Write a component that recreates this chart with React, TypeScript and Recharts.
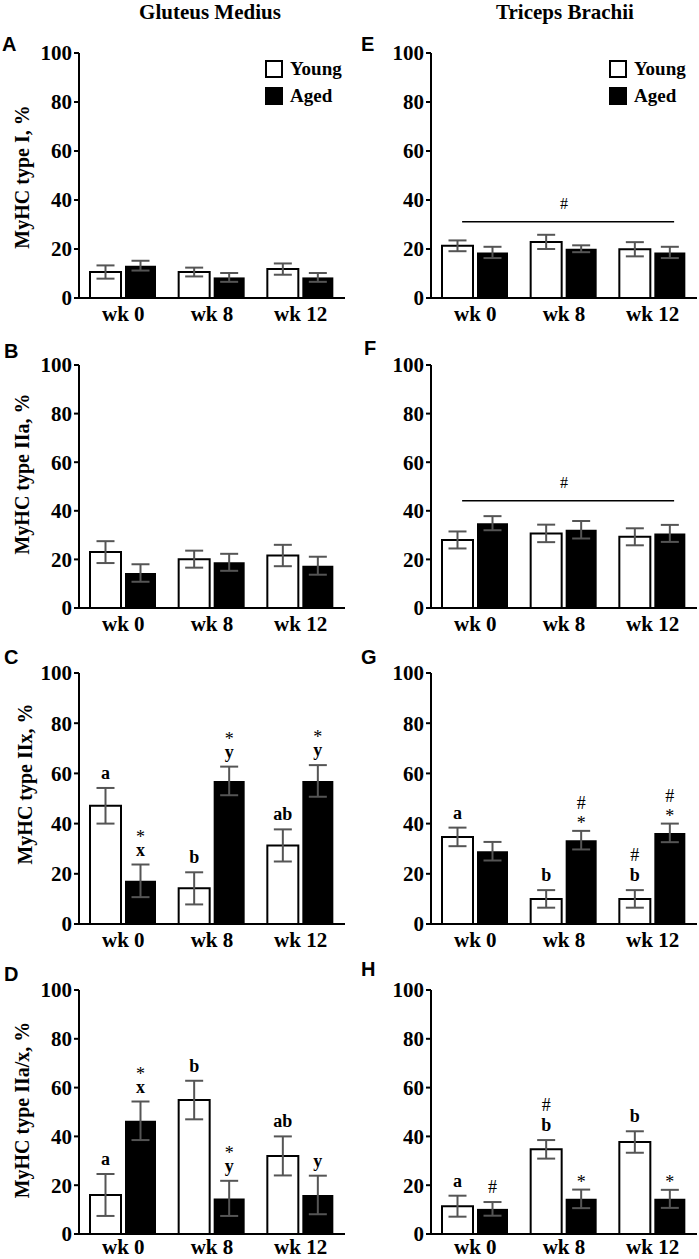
import React from 'react';
import
	{
		BarChart,
		Bar,
		XAxis,
		YAxis,
		ErrorBar,
		LabelList,
		ReferenceLine,
		Legend,
	} from "recharts";

const weeks = ['wk 0', 'wk 8', 'wk 12'];
const yTicks = [0, 20, 40, 60, 80, 100];
const groupNames = ['Young', 'Aged'];
const muscles = ['Gluteus Medius', 'Triceps Brachii'];

// Gluteus medius
const gmTypeIYoung = [10.6, 10.6, 11.8];
const gmTypeIYoungErr = [2.7, 1.8, 2.3];
const gmTypeIAged = [13.2, 8.4, 8.4];
const gmTypeIAgedErr = [2.0, 1.8, 1.8];

const gmTypeIIaYoung = [23.0, 20.1, 21.6];
const gmTypeIIaYoungErr = [4.5, 3.5, 4.4];
const gmTypeIIaAged = [14.4, 18.8, 17.4];
const gmTypeIIaAgedErr = [3.6, 3.5, 3.7];

const gmTypeIIxYoung = [47.1, 14.2, 31.3];
const gmTypeIIxYoungErr = [7.1, 6.4, 6.4];
const gmTypeIIxAged = [17.2, 57.0, 57.0];
const gmTypeIIxAgedErr = [6.5, 5.7, 6.3];
const gmTypeIIxYoungNotes = [['a'], ['b'], ['ab']];
const gmTypeIIxAgedNotes = [['*', 'x'], ['*', 'y'], ['*', 'y']];

const gmTypeIIaxYoung = [16.0, 54.9, 32.0];
const gmTypeIIaxYoungErr = [8.6, 7.9, 8.0];
const gmTypeIIaxAged = [46.4, 14.6, 16.0];
const gmTypeIIaxAgedErr = [7.9, 7.2, 7.9];
const gmTypeIIaxYoungNotes = [['a'], ['b'], ['ab']];
const gmTypeIIaxAgedNotes = [['*', 'x'], ['*', 'y'], ['y']];

// Triceps brachii
const tbTypeIYoung = [21.3, 22.9, 19.9];
const tbTypeIYoungErr = [2.2, 2.9, 2.9];
const tbTypeIAged = [18.6, 20.1, 18.6];
const tbTypeIAgedErr = [2.3, 1.4, 2.3];
const tbTypeIBracket = 31.1;

const tbTypeIIaYoung = [28.0, 30.7, 29.3];
const tbTypeIIaYoungErr = [3.5, 3.6, 3.5];
const tbTypeIIaAged = [34.9, 32.2, 30.7];
const tbTypeIIaAgedErr = [2.9, 3.6, 3.5];
const tbTypeIIaBracket = 44.1;

const tbTypeIIxYoung = [34.7, 10.0, 10.0];
const tbTypeIIxYoungErr = [3.7, 3.5, 3.5];
const tbTypeIIxAged = [29.0, 33.4, 36.3];
const tbTypeIIxAgedErr = [3.7, 3.7, 3.7];
const tbTypeIIxYoungNotes = [['a'], ['b'], ['#', 'b']];
const tbTypeIIxAgedNotes = [[], ['#', '*'], ['#', '*']];

const tbTypeIIaxYoung = [11.4, 34.7, 37.7];
const tbTypeIIaxYoungErr = [4.3, 3.8, 4.4];
const tbTypeIIaxAged = [10.3, 14.4, 14.4];
const tbTypeIIaxAgedErr = [2.8, 3.8, 3.7];
const tbTypeIIaxYoungNotes = [['a'], ['#', 'b'], ['b']];
const tbTypeIIaxAgedNotes = [['#'], ['*'], ['*']];

const noNotes = [[], [], []];

const SERIF = '"Liberation Serif", "Times New Roman", serif';
const SANS = '"Liberation Sans", Arial, sans-serif';

// plot rectangles, page coordinates
const rows = [
	{ top: 53, bottom: 298, axisH: 32, tickGap: 8 },
	{ top: 365, bottom: 608, axisH: 32, tickGap: 8 },
	{ top: 673, bottom: 924, axisH: 32, tickGap: 8 },
	{ top: 990, bottom: 1234, axisH: 25, tickGap: 5 },
];
const cols = [
	{ left: 0, axisW: 79, right: 5 },
	{ left: 349, axisW: 82, right: 2 },
];
const TOP = 20;

const panels = [
	{ letter: 'A', label: 'MyHC type I, %', row: 0, col: 0, young: gmTypeIYoung, youngErr: gmTypeIYoungErr, aged: gmTypeIAged, agedErr: gmTypeIAgedErr, youngNotes: noNotes, agedNotes: noNotes, legend: true },
	{ letter: 'B', label: 'MyHC type IIa, %', row: 1, col: 0, young: gmTypeIIaYoung, youngErr: gmTypeIIaYoungErr, aged: gmTypeIIaAged, agedErr: gmTypeIIaAgedErr, youngNotes: noNotes, agedNotes: noNotes },
	{ letter: 'C', label: 'MyHC type IIx, %', row: 2, col: 0, young: gmTypeIIxYoung, youngErr: gmTypeIIxYoungErr, aged: gmTypeIIxAged, agedErr: gmTypeIIxAgedErr, youngNotes: gmTypeIIxYoungNotes, agedNotes: gmTypeIIxAgedNotes },
	{ letter: 'D', label: 'MyHC type IIa/x, %', row: 3, col: 0, young: gmTypeIIaxYoung, youngErr: gmTypeIIaxYoungErr, aged: gmTypeIIaxAged, agedErr: gmTypeIIaxAgedErr, youngNotes: gmTypeIIaxYoungNotes, agedNotes: gmTypeIIaxAgedNotes },
	{ letter: 'E', row: 0, col: 1, young: tbTypeIYoung, youngErr: tbTypeIYoungErr, aged: tbTypeIAged, agedErr: tbTypeIAgedErr, youngNotes: noNotes, agedNotes: noNotes, bracket: tbTypeIBracket, legend: true },
	{ letter: 'F', row: 1, col: 1, young: tbTypeIIaYoung, youngErr: tbTypeIIaYoungErr, aged: tbTypeIIaAged, agedErr: tbTypeIIaAgedErr, youngNotes: noNotes, agedNotes: noNotes, bracket: tbTypeIIaBracket },
	{ letter: 'G', row: 2, col: 1, young: tbTypeIIxYoung, youngErr: tbTypeIIxYoungErr, aged: tbTypeIIxAged, agedErr: tbTypeIIxAgedErr, youngNotes: tbTypeIIxYoungNotes, agedNotes: tbTypeIIxAgedNotes },
	{ letter: 'H', row: 3, col: 1, young: tbTypeIIaxYoung, youngErr: tbTypeIIaxYoungErr, aged: tbTypeIIaxAged, agedErr: tbTypeIIaxAgedErr, youngNotes: tbTypeIIaxYoungNotes, agedNotes: tbTypeIIaxAgedNotes },
];

// page positions of the panel letters and y titles
const letterPos = {
	A: [2, 51], B: [4, 358], C: [4, 664], D: [4, 981],
	E: [361, 51], F: [364, 355], G: [361, 664], H: [361, 976],
};
const yLabelPos = [[29, 177], [29, 474], [32, 784], [29, 1110]];
const legendPos = [[265, 22], [260, 22]];

// stacked significance marks above the error bar, one text per bar
const renderNotes = (vals, errs, notes) => (props) =>
{
	const vb = props.viewBox ?? props;
	const idx = Number(props.value);
	const lines = notes[idx] || [];
	if (!lines.length || !vb || vals[idx] <= 0) return null;
	const cx = vb.x + vb.width / 2;
	const perUnit = Math.abs(vb.height) / vals[idx];
	let base = Math.min(vb.y, vb.y + vb.height) - errs[idx] * perUnit - 9;
	const spans = [];
	for (let i = lines.length - 1; i >= 0; i--)
	{
		const t = lines[i];
		const sym = t === '*' || t === '#';
		spans.unshift(
			<tspan key={ i } x={ cx } y={ t === '*' ? base + 7 : base } fontWeight={ sym ? 'normal' : 'bold' }>{ t }</tspan>
		);
		base -= t === '*' ? 13 : 20;
	}
	return (
		<text textAnchor="middle" fontFamily={ SERIF } fontSize={ 18 } fill="#000">{ spans }</text>
	);
};

const renderLegend = () => (
	<div style={ { fontFamily: SERIF, fontWeight: 'bold', fontSize: 19, color: '#000' } }>
		{ groupNames.map((n, i) => (
			<div key={ n } style={ { display: 'flex', alignItems: 'center', height: 27, whiteSpace: 'nowrap' } }>
				<span style={ { display: 'inline-block', width: 14, height: 14, border: '2px solid #000', background: i ? '#000' : '#fff', marginRight: 7 } } />
				{ n }
			</div>
		)) }
	</div>
);

const bracketShape = (props) =>
{
	const w = props.x2 - props.x1;
	return <line x1={ props.x1 + w * 0.117 } x2={ props.x2 - w * 0.086 } y1={ props.y1 } y2={ props.y2 } stroke="#000" strokeWidth={ 1.5 } />;
};

const Panel = ({ p }) =>
{
	const r = rows[p.row];
	const c = cols[p.col];
	const data = weeks.map((w, i) => ({
		name: w,
		idx: i,
		young: p.young[i],
		youngErr: p.youngErr[i],
		aged: p.aged[i],
		agedErr: p.agedErr[i],
	}));
	const height = r.bottom - r.top + TOP + r.axisH;
	const lp = legendPos[p.col];
	return (
		<div style={ { position: 'absolute', left: c.left, top: r.top - TOP } }>
			<BarChart width={ 350 } height={ height } data={ data }
				margin={ { top: TOP, right: c.right, bottom: 0, left: 0 } }
				barSize={ 31 } barGap={ 4 }>
				<XAxis dataKey="name" interval={ 0 } height={ r.axisH } tickLine={ false } tickSize={ 0 } tickMargin={ r.tickGap }
					axisLine={ { stroke: '#000', strokeWidth: 2 } }
					tick={ { fill: '#000', fontSize: 21, fontWeight: 'bold', fontFamily: SERIF } } />
				<YAxis domain={ [0, 100] } ticks={ yTicks } width={ c.axisW } interval={ 0 } tickSize={ 5 } tickMargin={ 2 }
					axisLine={ { stroke: '#000', strokeWidth: 2 } }
					tickLine={ { stroke: '#000', strokeWidth: 2 } }
					tick={ { fill: '#000', fontSize: 21, fontWeight: 'bold', fontFamily: SERIF } } />
				{ p.bracket !== undefined && (
					<ReferenceLine y={ p.bracket } stroke="#000" shape={ bracketShape }
						label={ { value: '#', position: 'top', offset: 13, fill: '#000', fontSize: 16, fontFamily: SERIF } } />
				) }
				<Bar dataKey="young" name={ groupNames[0] } fill="#fff" stroke="#000" strokeWidth={ 2 } isAnimationActive={ false }>
					<ErrorBar dataKey="youngErr" width={ 9 } strokeWidth={ 2 } stroke="#555" />
					<LabelList dataKey="idx" content={ renderNotes(p.young, p.youngErr, p.youngNotes) } />
				</Bar>
				<Bar dataKey="aged" name={ groupNames[1] } fill="#000" isAnimationActive={ false }>
					<ErrorBar dataKey="agedErr" width={ 9 } strokeWidth={ 2 } stroke="#555" />
					<LabelList dataKey="idx" content={ renderNotes(p.aged, p.agedErr, p.agedNotes) } />
				</Bar>
				{ p.legend && (
					<Legend layout="vertical" align="center" verticalAlign="middle" content={ renderLegend }
						wrapperStyle={ { left: lp[0], top: lp[1], width: 'auto', height: 'auto' } } />
				) }
			</BarChart>
		</div>
	);
};

export default function App()
{
	return (
		<div style={ { position: 'absolute', left: 0, top: 0, width: 699, height: 1259, background: '#fff', overflow: 'hidden' } }>
			{ panels.map((p) => <Panel key={ p.letter } p={ p } />) }
			<svg width={ 699 } height={ 1259 } style={ { position: 'absolute', left: 0, top: 0, pointerEvents: 'none' } }>
				<text x={ 210 } y={ 19 } textAnchor="middle" fontFamily={ SERIF } fontWeight="bold" fontSize={ 21 }>{ muscles[0] }</text>
				<text x={ 565 } y={ 19 } textAnchor="middle" fontFamily={ SERIF } fontWeight="bold" fontSize={ 21 }>{ muscles[1] }</text>
				{ panels.map((p) => (
					<text key={ p.letter } x={ letterPos[p.letter][0] } y={ letterPos[p.letter][1] }
						fontFamily={ SANS } fontWeight="bold" fontSize={ 20 }>{ p.letter }</text>
				)) }
				{ panels.filter((p) => p.label).map((p) => (
					<text key={ p.label } transform={ `translate(${ yLabelPos[p.row][0] }, ${ yLabelPos[p.row][1] }) rotate(-90)` }
						textAnchor="middle" fontFamily={ SERIF } fontWeight="bold" fontSize={ 20 }>{ p.label }</text>
				)) }
			</svg>
		</div>
	);
}
